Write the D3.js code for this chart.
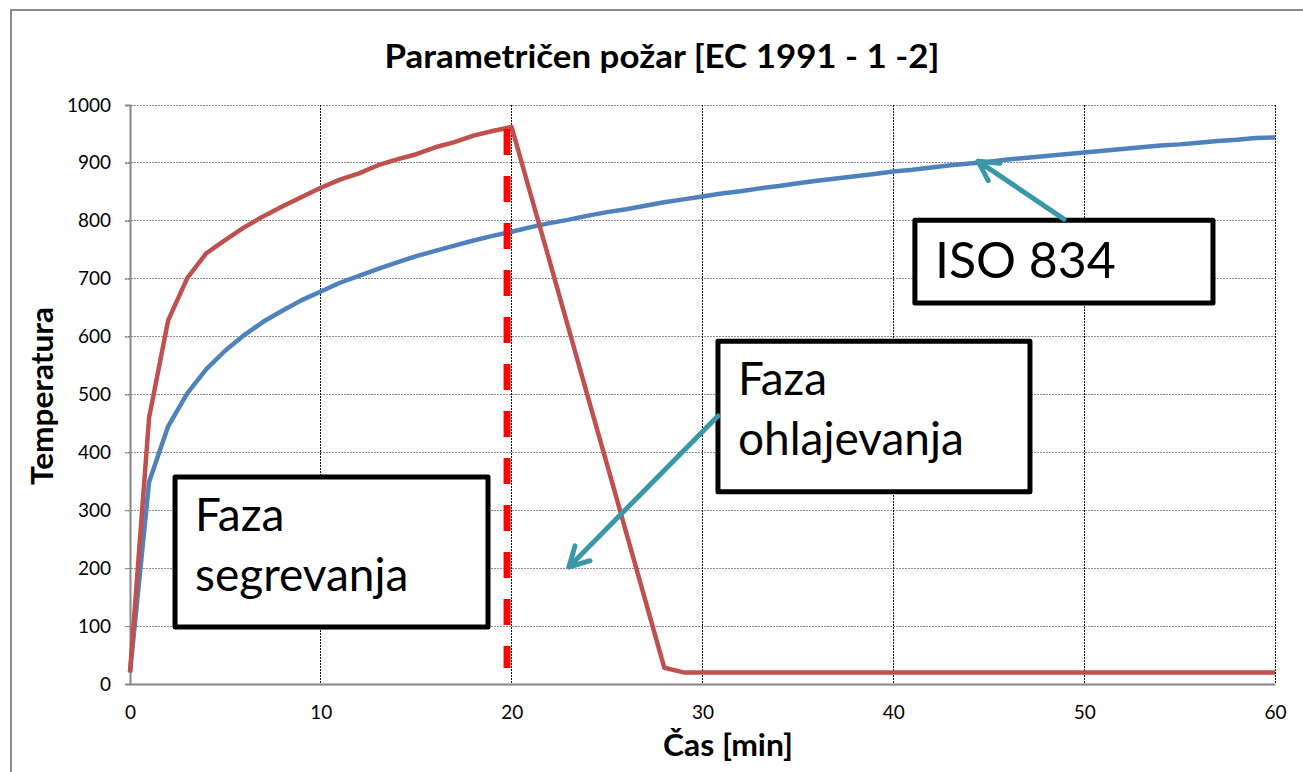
<!DOCTYPE html>
<html>
<head>
<meta charset="utf-8">
<script src="https://cdn.jsdelivr.net/npm/d3@7/dist/d3.min.js"></script>
<style>
  html, body { margin: 0; padding: 0; background: #fff; }
  svg { display: block; }
</style>
</head>
<body>
<div id="chart"></div>
<script>
// data
var minutes = [0,1,2,3,4,5,6,7,8,9,10,11,12,13,14,15,16,17,18,19,20,
  21,22,23,24,25,26,27,28,29,30,31,32,33,34,35,36,37,38,39,40,
  41,42,43,44,45,46,47,48,49,50,51,52,53,54,55,56,57,58,59,60];

var isoTemp = [20,349,445,502,544,576,603,626,645,663,678,
  693,705,717,728,739,748,757,766,774,781,
  789,796,802,809,815,820,826,832,837,842,
  847,851,856,860,865,869,873,877,881,885,
  888,892,896,899,902,906,909,912,915,918,
  921,924,927,930,932,935,938,940,943,944];

var paramTemp = [20,460,628,701,744,767,789,808,825,841,857,
  871,882,896,906,915,927,936,947,955,962,
  845,729,612,495,379,262,145,28,20,20,
  20,20,20,20,20,20,20,20,20,20,
  20,20,20,20,20,20,20,20,20,20,
  20,20,20,20,20,20,20,20,20,20];

var xTicks = [0,10,20,30,40,50,60];
var yTicks = [0,100,200,300,400,500,600,700,800,900,1000];

// phase boundary (dashed red) : time, from temp, to temp
var boundary = {t: 19.76, from: 27.6, to: 958.5};

// annotation boxes in data units
var boxes = [
  {t0: 41.13, t1: 56.75, v0: 801, v1: 658, lines: ["ISO 834"], size: 50},
  {t0: 30.81, t1: 47.16, v0: 592, v1: 332, lines: ["Faza", "ohlajevanja"], size: 46},
  {t0: 2.36, t1: 18.76, v0: 357.5, v1: 98.4, lines: ["Faza", "segrevanja"], size: 46}
];
var arrows = [
  {t0: 48.94, v0: 803, t1: 44.44, v1: 903},
  {t0: 30.81, v0: 463, t1: 23.0, v1: 202}
];

var W = 1303, H = 772;
var margin = {top: 105, right: 28, bottom: 88, left: 130};
var width = W - margin.left - margin.right,
    height = H - margin.top - margin.bottom;

var svg = d3.select("#chart").append("svg")
  .attr("width", W).attr("height", H);

// outer chart frame
svg.append("rect").attr("x", 11).attr("y", 10).attr("width", 1310).attr("height", 800)
  .attr("fill", "none").attr("stroke", "#8a8a8a").attr("stroke-width", 2);

var g = svg.append("g").attr("transform", "translate(" + margin.left + "," + margin.top + ")");

var x = d3.scaleLinear().domain([0, 60]).range([0, width]);
var y = d3.scaleLinear().domain([0, 1000]).range([height, 0]);

// horizontal grid
g.append("g").selectAll("line").data(yTicks.filter(function(d) { return d > 0; }))
  .enter().append("line")
  .attr("x1", -5).attr("x2", width)
  .attr("y1", function(d) { return y(d); }).attr("y2", function(d) { return y(d); })
  .attr("stroke", "#8c8c8c").attr("stroke-width", 1).attr("stroke-dasharray", "2,1")
  .style("shape-rendering", "crispEdges");

// vertical grid
g.append("g").selectAll("line").data(xTicks.filter(function(d) { return d > 0; }))
  .enter().append("line")
  .attr("x1", function(d) { return x(d); }).attr("x2", function(d) { return x(d); })
  .attr("y1", 0).attr("y2", height)
  .attr("stroke", "#111").attr("stroke-width", 1).attr("stroke-dasharray", "2,1")
  .style("shape-rendering", "crispEdges");

// axes
var yAxis = g.append("g")
  .call(d3.axisLeft(y).tickValues(yTicks).tickFormat(d3.format("d")).tickSize(5).tickPadding(14))
  .attr("font-family", "Lato, 'Open Sans', sans-serif").attr("font-size", "19px");
var xAxis = g.append("g").attr("transform", "translate(0," + height + ")")
  .call(d3.axisBottom(x).tickValues(xTicks).tickFormat(d3.format("d")).tickSize(0).tickPadding(22))
  .attr("font-family", "Lato, 'Open Sans', sans-serif").attr("font-size", "19px");
[yAxis, xAxis].forEach(function(a) {
  a.select(".domain").attr("stroke", "#868686").attr("stroke-width", 2);
  a.selectAll(".tick line").attr("stroke", "#868686");
  a.selectAll(".tick text").attr("fill", "#000");
});

// series
var line = d3.line()
  .x(function(d, i) { return x(minutes[i]); })
  .y(function(d) { return y(d); });

g.append("path").datum(isoTemp).attr("d", line)
  .attr("fill", "none").attr("stroke", "#4f81bd").attr("stroke-width", 4.5)
  .attr("stroke-linejoin", "round");

g.append("path").datum(paramTemp).attr("d", line)
  .attr("fill", "none").attr("stroke", "#c0504d").attr("stroke-width", 4.5)
  .attr("stroke-linejoin", "round");

// dashed boundary between phases
g.append("line")
  .attr("x1", x(boundary.t)).attr("x2", x(boundary.t))
  .attr("y1", y(boundary.to)).attr("y2", y(boundary.from))
  .attr("stroke", "#ff0000").attr("stroke-width", 7)
  .attr("stroke-dasharray", "26,21");

// annotation boxes
boxes.forEach(function(b) {
  var bx = x(b.t0), by = y(b.v0), bw = x(b.t1) - x(b.t0), bh = y(b.v1) - y(b.v0);
  g.append("rect").attr("x", bx).attr("y", by).attr("width", bw).attr("height", bh)
    .attr("fill", "#fff").attr("stroke", "#000").attr("stroke-width", 5)
    .attr("stroke-linejoin", "round");
  var t = g.append("text").attr("x", bx + 20).attr("y", by + 8)
    .attr("font-family", "Lato, 'Open Sans', sans-serif").attr("font-size", b.size + "px")
    .attr("fill", "#000");
  b.lines.forEach(function(s, i) {
    t.append("tspan").attr("x", bx + 20).attr("dy", i === 0 ? "1em" : "1.3em").text(s);
  });
});

// arrows
arrows.forEach(function(a) {
  var x0 = x(a.t0), y0 = y(a.v0), x1 = x(a.t1), y1 = y(a.v1);
  var ang = Math.atan2(y0 - y1, x0 - x1), L = 22, sp = 0.5;
  var p = "M" + x0 + "," + y0 + "L" + x1 + "," + y1 +
    "M" + (x1 + L * Math.cos(ang - sp)) + "," + (y1 + L * Math.sin(ang - sp)) +
    "L" + x1 + "," + y1 +
    "L" + (x1 + L * Math.cos(ang + sp)) + "," + (y1 + L * Math.sin(ang + sp));
  g.append("path").attr("d", p).attr("fill", "none")
    .attr("stroke", "#3a97aa").attr("stroke-width", 5)
    .attr("stroke-linecap", "round").attr("stroke-linejoin", "round");
});

// titles
svg.append("text").attr("x", 662).attr("y", 68).attr("text-anchor", "middle")
  .attr("font-family", "Lato, 'Open Sans', sans-serif").attr("font-weight", "bold")
  .attr("font-size", "33px").attr("fill", "#000")
  .attr("textLength", 555).attr("lengthAdjust", "spacingAndGlyphs")
  .text("Parametričen požar [EC 1991 - 1 -2]");

svg.append("text").attr("x", 728).attr("y", 756).attr("text-anchor", "middle")
  .attr("font-family", "Lato, 'Open Sans', sans-serif").attr("font-weight", "bold")
  .attr("font-size", "31px").attr("fill", "#000")
  .attr("textLength", 130).attr("lengthAdjust", "spacingAndGlyphs")
  .text("Čas [min]");

svg.append("text").attr("transform", "translate(53,396) rotate(-90)")
  .attr("text-anchor", "middle")
  .attr("font-family", "Lato, 'Open Sans', sans-serif").attr("font-weight", "bold")
  .attr("font-size", "31px").attr("fill", "#000")
  .attr("textLength", 178).attr("lengthAdjust", "spacingAndGlyphs")
  .text("Temperatura");
</script>
</body>
</html>
